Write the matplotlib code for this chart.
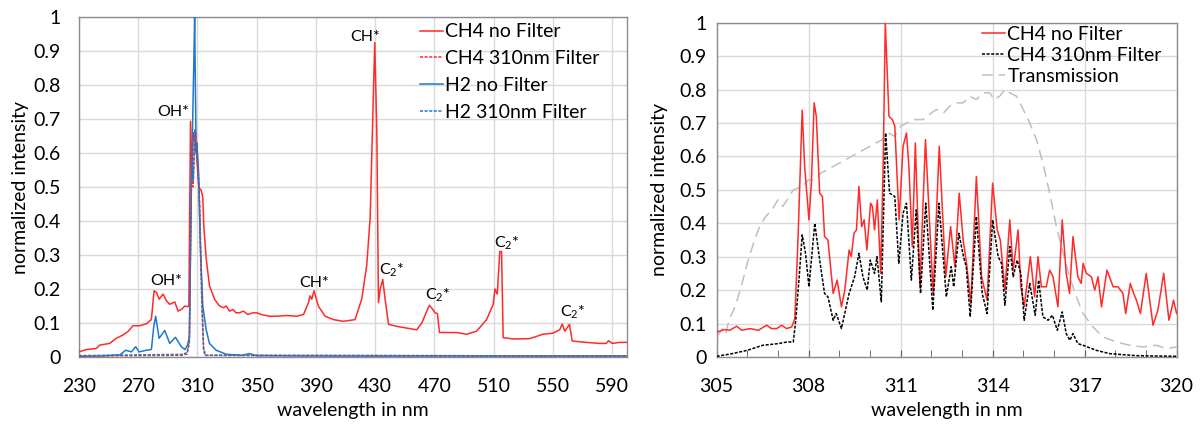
import numpy as np
import matplotlib
matplotlib.use("Agg")
import matplotlib.pyplot as plt
from matplotlib.ticker import MultipleLocator, FuncFormatter

plt.rcParams['font.family'] = ['Lato', 'DejaVu Sans']
plt.rcParams['mathtext.fontset'] = 'custom'
plt.rcParams['mathtext.rm'] = 'Lato'
plt.rcParams['mathtext.it'] = 'Lato'

# ---- left panel: full spectra ----
wl_ch4 = [230, 235, 241.7, 244, 250.7, 255.2, 259.8, 263.1, 266.5, 271, 275.5, 278.9, 280.7, 282.3,
          284.1, 286.8, 289.1, 291.3, 294.7, 296.9, 299.2, 301.5, 303.3, 304.2, 305.3, 306.2, 307.3,
          308.4, 309.5, 310.9, 312.5, 313.6, 314.3, 315.9, 318.1, 321.5, 324.9, 327.5, 329.5, 331.6,
          334, 336, 338.4, 341, 344, 347.4, 350, 353, 358.6, 363.5, 370.3, 377, 381.6, 385, 386,
          387.2, 388.7, 391.6, 396.1, 401.8, 408.5, 416.4, 420.9, 424.3, 426.6, 428.4, 429.7, 431.1,
          432.2, 433.4, 435.1, 436.7, 439, 444.7, 451.4, 458, 461.5, 464.8, 466.6, 468.9, 470.4, 472,
          473.4, 478.3, 485, 491.7, 498.5, 505.2, 509.7, 510.8, 512.4, 514.1, 515.3, 516.4, 523.1,
          534.3, 543.3, 550, 554.5, 556.3, 558, 561.2, 563, 572.4, 581.4, 586, 587.5, 590, 595, 600]
ch4_nofilter = [0.015, 0.022, 0.025, 0.035, 0.04, 0.055, 0.065, 0.075, 0.092, 0.092, 0.098, 0.11, 0.195,
                0.19, 0.17, 0.185, 0.165, 0.155, 0.162, 0.135, 0.14, 0.15, 0.148, 0.15, 0.693, 0.55, 0.66,
                0.64, 0.59, 0.50, 0.49, 0.47, 0.385, 0.29, 0.21, 0.17, 0.15, 0.145, 0.15, 0.135,
                0.14, 0.13, 0.13, 0.135, 0.125, 0.13, 0.13, 0.125, 0.12, 0.12, 0.122, 0.12, 0.125, 0.16, 0.18,
                0.17, 0.195, 0.15, 0.12, 0.11, 0.105, 0.11, 0.17, 0.27, 0.41, 0.71, 0.925, 0.66,
                0.16, 0.20, 0.228, 0.17, 0.096, 0.09, 0.085, 0.08, 0.10, 0.135, 0.152, 0.14, 0.13, 0.128,
                0.072, 0.072, 0.072, 0.067, 0.076, 0.11, 0.155, 0.20, 0.185, 0.31, 0.31, 0.057, 0.053,
                0.054, 0.067, 0.07, 0.08, 0.097, 0.076, 0.096, 0.047, 0.043, 0.04, 0.04, 0.048, 0.04, 0.043, 0.043]

wl_ch4f = [230, 300, 303, 304.5, 305.2, 306, 307, 308, 308.8, 309.5, 310.5, 311.5, 312.3, 313.2, 314.2, 315, 600]
ch4_filter = [0.003, 0.005, 0.015, 0.05, 0.3, 0.55, 0.5, 0.62, 0.66, 0.6, 0.55, 0.45, 0.3, 0.15, 0.02, 0.005, 0.003]

wl_h2 = [230, 244, 257.5, 261.6, 265.4, 268.3, 270.6, 275.5, 278.9, 280.5, 281.8, 284.1, 287.9, 291.3,
         295.1, 299.2, 301.5, 303.3, 304.6, 305.3, 306, 306.8, 307.6, 308.1, 308.6, 309.1, 309.6, 310.7,
         312, 313.6, 315.9, 318.1, 322.6, 329.4, 340, 345, 350, 400, 500, 600]
h2_nofilter = [0.002, 0.003, 0.006, 0.02, 0.015, 0.03, 0.015, 0.02, 0.022, 0.09, 0.12, 0.055, 0.078, 0.04,
               0.058, 0.03, 0.022, 0.035, 0.06, 0.3, 0.55, 0.7, 0.88, 1.0, 0.8, 0.6, 0.63, 0.55,
               0.32, 0.15, 0.08, 0.04, 0.02, 0.008, 0.005, 0.01, 0.004, 0.003, 0.003, 0.003]

wl_h2f = [230, 303, 304.5, 305.3, 306.2, 307.2, 308.3, 309, 310, 311, 312, 313, 314, 315.5, 600]
h2_filter = [0.004, 0.008, 0.04, 0.32, 0.58, 0.52, 0.67, 0.62, 0.58, 0.5, 0.32, 0.15, 0.03, 0.005, 0.003]

labels_left = [("OH*", 293.5, 0.72), ("OH*", 288.7, 0.224), ("CH*", 423, 0.94), ("CH*", 389, 0.218),
               ("C$_2$*", 441, 0.256), ("C$_2$*", 472, 0.182), ("C$_2$*", 519, 0.335), ("C$_2$*", 563.5, 0.132)]

# ---- right panel: zoom around 310 nm ----
wl_r = [305.0, 305.27, 305.43, 305.65, 305.82, 306.09, 306.36, 306.63, 306.79, 306.96, 307.12, 307.28,
        307.45, 307.55, 307.66, 307.79, 307.87, 308.01, 308.09, 308.18, 308.25, 308.36, 308.45, 308.52,
        308.63, 308.8, 308.93, 309.07, 309.18, 309.32, 309.39, 309.48, 309.56, 309.64, 309.73, 309.81,
        309.9, 310.02, 310.08, 310.15, 310.24, 310.35, 310.43, 310.5, 310.62, 310.73, 310.81, 310.88,
        310.95, 311.08, 311.19, 311.27, 311.38, 311.48, 311.63, 311.81, 312.06, 312.26, 312.47, 312.63,
        312.77, 312.91, 313.04, 313.15, 313.29, 313.47, 313.64, 313.82, 314.0, 314.15, 314.25, 314.4,
        314.56, 314.67, 314.83, 314.92, 315.03, 315.23, 315.37, 315.48, 315.59, 315.75, 315.86, 315.97,
        316.13, 316.27, 316.4, 316.51, 316.62, 316.78, 316.89, 316.95, 317.06, 317.22, 317.33, 317.44,
        317.55, 317.73, 317.93, 318.09, 318.25, 318.34, 318.49, 318.6, 318.69, 318.82, 319.01, 319.23,
        319.39, 319.58, 319.75, 319.9, 320.0]
ch4_r = [0.075, 0.082, 0.08, 0.092, 0.08, 0.085, 0.08, 0.095, 0.085, 0.085, 0.095, 0.085,
         0.09, 0.115, 0.37, 0.738, 0.57, 0.41, 0.52, 0.76, 0.72, 0.49, 0.48, 0.36,
         0.35, 0.19, 0.23, 0.15, 0.20, 0.32, 0.30, 0.37, 0.38, 0.51, 0.39, 0.41,
         0.32, 0.46, 0.45, 0.38, 0.47, 0.25, 0.57, 1.0, 0.72, 0.71, 0.69, 0.55,
         0.41, 0.63, 0.67, 0.57, 0.33, 0.64, 0.21, 0.65, 0.19, 0.63, 0.24, 0.39,
         0.27, 0.49, 0.35, 0.28, 0.16, 0.54, 0.24, 0.17, 0.52, 0.38, 0.35, 0.20,
         0.41, 0.26, 0.38, 0.21, 0.15, 0.30, 0.18, 0.30, 0.21, 0.21, 0.26, 0.24,
         0.15, 0.41, 0.25, 0.19, 0.36, 0.24, 0.22, 0.28, 0.25, 0.24, 0.20, 0.24,
         0.15, 0.26, 0.21, 0.21, 0.19, 0.13, 0.22, 0.19, 0.17, 0.13, 0.25, 0.095,
         0.14, 0.25, 0.11, 0.17, 0.13]

wl_rf = [305.0, 305.5, 306.0, 306.5, 307.0, 307.3, 307.5, 307.58, 307.7, 307.79, 307.9, 308.01, 308.2,
         308.36, 308.52, 308.63, 308.8, 308.9, 309.07, 309.32, 309.5, 309.64, 309.77, 309.91, 310.01,
         310.15, 310.23, 310.37, 310.51, 310.64, 310.81, 310.94, 311.08, 311.19, 311.35, 311.51, 311.65,
         311.82, 312.05, 312.25, 312.49, 312.65, 312.73, 312.9, 313.05, 313.14, 313.27, 313.47, 313.66,
         313.82, 314.0, 314.18, 314.29, 314.4, 314.56, 314.67, 314.8, 314.92, 315.03, 315.21, 315.39,
         315.5, 315.64, 315.81, 315.95, 316.11, 316.27, 316.4, 316.52, 316.62, 316.78, 316.95, 317.38,
         317.82, 318.69, 320.0]
ch4_rf = [0.002, 0.01, 0.02, 0.035, 0.04, 0.045, 0.045, 0.11, 0.25, 0.365, 0.31, 0.21, 0.40,
          0.29, 0.19, 0.18, 0.11, 0.13, 0.085, 0.19, 0.24, 0.31, 0.24, 0.20, 0.29,
          0.25, 0.30, 0.165, 0.67, 0.49, 0.48, 0.28, 0.43, 0.46, 0.23, 0.44, 0.19,
          0.46, 0.14, 0.46, 0.18, 0.27, 0.21, 0.37, 0.30, 0.27, 0.12, 0.42, 0.19,
          0.13, 0.41, 0.30, 0.28, 0.155, 0.33, 0.24, 0.29, 0.25, 0.11, 0.22, 0.125,
          0.23, 0.12, 0.11, 0.125, 0.08, 0.135, 0.07, 0.05, 0.07, 0.04, 0.035, 0.02,
          0.01, 0.004, 0.002]

wl_tr = [305.0, 305.2, 305.3, 305.4, 305.6, 305.8, 306.0, 306.2, 306.4, 306.6, 306.8, 307.0, 307.15, 307.3,
         307.5, 307.8, 308.0, 308.2, 308.4, 308.6, 308.8, 309.0, 309.2, 309.4, 309.6, 309.8, 310.0,
         310.2, 310.4, 310.6, 310.8, 311.0, 311.4, 311.73, 312.0, 312.17, 312.4, 312.6, 312.8, 313.04,
         313.25, 313.47, 313.7, 313.91, 314.05, 314.23, 314.4, 314.56, 314.78, 315.0, 315.21, 315.43,
         315.64, 315.86, 316.08, 316.3, 316.51, 316.73, 316.95, 317.27, 317.6, 318.03, 318.47, 318.9,
         319.34, 319.66, 320.0]
transmission = [0.06, 0.085, 0.07, 0.11, 0.15, 0.21, 0.28, 0.34, 0.39, 0.42, 0.44, 0.47, 0.45, 0.47,
                0.50, 0.51, 0.53, 0.53, 0.55, 0.56, 0.57, 0.58, 0.59, 0.60, 0.61, 0.62, 0.63,
                0.64, 0.65, 0.67, 0.66, 0.69, 0.71, 0.71, 0.73, 0.74, 0.73, 0.75, 0.76, 0.76,
                0.78, 0.77, 0.79, 0.79, 0.77, 0.78, 0.80, 0.79, 0.78, 0.74, 0.70, 0.65,
                0.58, 0.49, 0.39, 0.31, 0.24, 0.18, 0.13, 0.09, 0.06, 0.045, 0.035, 0.03,
                0.035, 0.025, 0.03]

red = '#ff2a2a'
blue = '#1f78c8'
frame = '#8c8c8c'
grid = '#d9d9d9'

fig = plt.figure(figsize=(12, 4.32), dpi=100)
ax1 = fig.add_axes([0.0658, 0.1736, 0.4567, 0.787])
ax2 = fig.add_axes([0.5972, 0.1736, 0.3833, 0.774])

fmt = FuncFormatter(lambda v, p: f"{v:g}")

ax1.plot(wl_ch4, ch4_nofilter, color=red, lw=1.1, label="CH4 no Filter", zorder=3)
ax1.plot(wl_ch4f, ch4_filter, color=red, lw=1.1, dashes=(2, 1), label="CH4 310nm Filter", zorder=4)
ax1.plot(wl_h2, h2_nofilter, color=blue, lw=1.1, label="H2 no Filter", zorder=3)
ax1.plot(wl_h2f, h2_filter, color=blue, lw=1.1, dashes=(2, 1), label="H2 310nm Filter", zorder=4)
for txt, x, y in labels_left:
    ax1.text(x, y, txt, fontsize=11.5, ha='center', va='center', zorder=5)
ax1.set_xlim(230, 600)
ax1.set_ylim(0, 1)
ax1.set_xticks(np.arange(230, 600, 40))
ax1.yaxis.set_major_locator(MultipleLocator(0.1))
ax1.yaxis.set_major_formatter(fmt)
ax1.tick_params(axis='x', length=0, labelsize=14, pad=15)
ax1.tick_params(axis='y', length=0, labelsize=14, pad=13)
ax1.grid(True, color=grid, lw=1)
ax1.set_axisbelow(True)
ax1.set_xlabel("wavelength in nm", fontsize=14, labelpad=5)
ax1.set_ylabel("normalized intensity", fontsize=14, labelpad=3)
ax1.legend(loc='upper left', bbox_to_anchor=(0.622, 0.981), frameon=False, fontsize=14,
           handlelength=1.2, handletextpad=0.1, labelspacing=0.5, borderaxespad=0, borderpad=0)

ax2.plot(wl_tr, transmission, color='#bfbfbf', lw=1.1, dashes=(7, 4), label="Transmission", zorder=2)
ax2.plot(wl_r, ch4_r, color=red, lw=1.1, label="CH4 no Filter", zorder=3)
ax2.plot(wl_rf, ch4_rf, color='black', lw=1.1, dashes=(2, 1), label="CH4 310nm Filter", zorder=4)
ax2.set_xlim(305, 320)
ax2.set_ylim(0, 1)
ax2.set_xticks(np.arange(305, 321, 3))
ax2.xaxis.set_minor_locator(MultipleLocator(1))
ax2.yaxis.set_major_locator(MultipleLocator(0.1))
ax2.yaxis.set_major_formatter(fmt)
ax2.tick_params(axis='x', which='both', direction='in', length=5, color='#595959', labelsize=14, pad=15)
ax2.tick_params(axis='y', length=0, labelsize=14, pad=7)
ax2.grid(True, which='major', color=grid, lw=1)
ax2.set_axisbelow(True)
ax2.set_xlabel("wavelength in nm", fontsize=14, labelpad=5)
ax2.set_ylabel("normalized intensity", fontsize=14, labelpad=8)
h, l = ax2.get_legend_handles_labels()
ax2.legend([h[1], h[2], h[0]], [l[1], l[2], l[0]], loc='upper left', bbox_to_anchor=(0.577, 0.99),
           frameon=False, fontsize=14, handlelength=1.2, handletextpad=0.1, labelspacing=0.2,
           borderaxespad=0, borderpad=0)

for ax in (ax1, ax2):
    for s in ax.spines.values():
        s.set_color(frame)
        s.set_linewidth(1)

fig.savefig("out.png", dpi=100)
